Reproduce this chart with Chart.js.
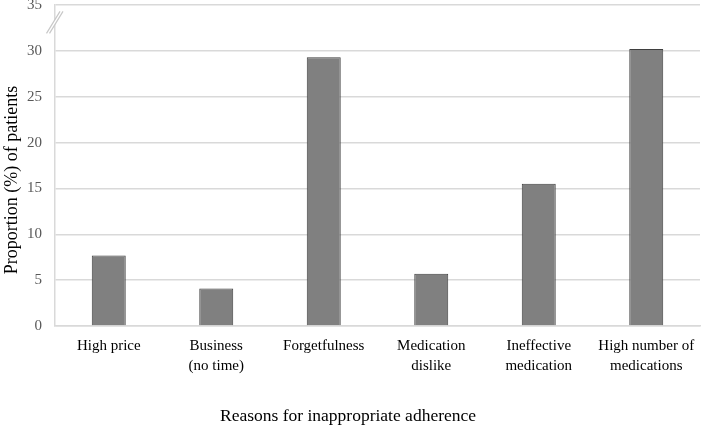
<!DOCTYPE html>
<html>
<head>
<meta charset="utf-8">
<script src="https://cdn.jsdelivr.net/npm/chart.js@4/dist/chart.umd.min.js"></script>
<style>
  html, body { margin: 0; padding: 0; background: #fff; }
  #wrap { width: 702px; height: 427px; position: relative; }
</style>
</head>
<body>
<div id="wrap"><canvas id="barChart"></canvas></div>
<script>
const reasons = [
  'High price',
  ['Business', '(no time)'],
  'Forgetfulness',
  ['Medication', 'dislike'],
  ['Ineffective', 'medication'],
  ['High number of', 'medications']
];
const proportions = [7.7, 4.1, 29.3, 5.7, 15.5, 30.2];
const yTitle = 'Proportion (%) of patients';
const xTitle = 'Reasons for inappropriate adherence';

const serif = '"Liberation Serif", "Times New Roman", serif';

// axis titles and the "//" break mark near the top of the y axis
const extras = {
  id: 'extras',
  afterDraw(chart) {
    const ctx = chart.ctx;
    const y = chart.scales.y;
    const area = chart.chartArea;

    ctx.save();
    ctx.fillStyle = '#000';
    ctx.font = '18px ' + serif;
    ctx.textAlign = 'center';
    ctx.textBaseline = 'middle';
    ctx.translate(12, 180);
    ctx.rotate(-Math.PI / 2);
    ctx.fillText(yTitle, 0, 0);
    ctx.restore();

    ctx.save();
    ctx.fillStyle = '#000';
    ctx.font = '17.5px ' + serif;
    ctx.textAlign = 'center';
    ctx.textBaseline = 'middle';
    ctx.fillText(xTitle, 348, 416);
    ctx.restore();

    const cx = area.left;
    const cy = y.getPixelForValue(33.1);
    ctx.save();
    ctx.beginPath();
    ctx.moveTo(cx - 8.5, cy + 11);
    ctx.lineTo(cx + 5, cy - 11);
    ctx.lineTo(cx + 8, cy - 11);
    ctx.lineTo(cx - 5.5, cy + 11);
    ctx.closePath();
    ctx.fillStyle = '#fff';
    ctx.fill();
    ctx.strokeStyle = '#c8c8c8';
    ctx.lineWidth = 1.2;
    ctx.beginPath();
    ctx.moveTo(cx - 8.5, cy + 11);
    ctx.lineTo(cx + 5, cy - 11);
    ctx.moveTo(cx - 5.5, cy + 11);
    ctx.lineTo(cx + 8, cy - 11);
    ctx.stroke();
    ctx.restore();
  }
};

new Chart(document.getElementById('barChart').getContext('2d'), {
  type: 'bar',
  data: {
    labels: reasons,
    datasets: [{
      label: 'Proportion of patients',
      data: proportions,
      backgroundColor: '#808080',
      borderColor: '#3f3f3f',
      borderWidth: 1,
      barPercentage: 0.316,
      categoryPercentage: 1
    }]
  },
  options: {
    responsive: true,
    maintainAspectRatio: false,
    animation: false,
    layout: { padding: { top: 5, right: 2, left: 0, bottom: 0 } },
    plugins: {
      legend: { display: false },
      tooltip: { enabled: false }
    },
    scales: {
      x: {
        grid: { display: false, drawTicks: false },
        border: { display: true, color: '#d9d9d9', width: 1.5 },
        ticks: {
          color: '#000',
          font: { family: serif, size: 15, lineHeight: 1.33 },
          padding: 10,
          maxRotation: 0,
          autoSkip: false
        },
        afterFit(scale) {
          scale.height = 101;
          scale.paddingLeft = 0;
          scale.paddingRight = 0;
        }
      },
      y: {
        min: 0,
        max: 35,
        ticks: {
          stepSize: 5,
          color: '#595959',
          font: { family: serif, size: 15 },
          padding: 13
        },
        grid: { color: '#d9d9d9', lineWidth: 1.5, drawTicks: false },
        border: { display: true, color: '#d9d9d9', width: 1.5 },
        afterFit(scale) {
          scale.width = 55;
          scale.paddingTop = 0;
          scale.paddingBottom = 0;
        }
      }
    }
  },
  plugins: [extras]
});
</script>
</body>
</html>
